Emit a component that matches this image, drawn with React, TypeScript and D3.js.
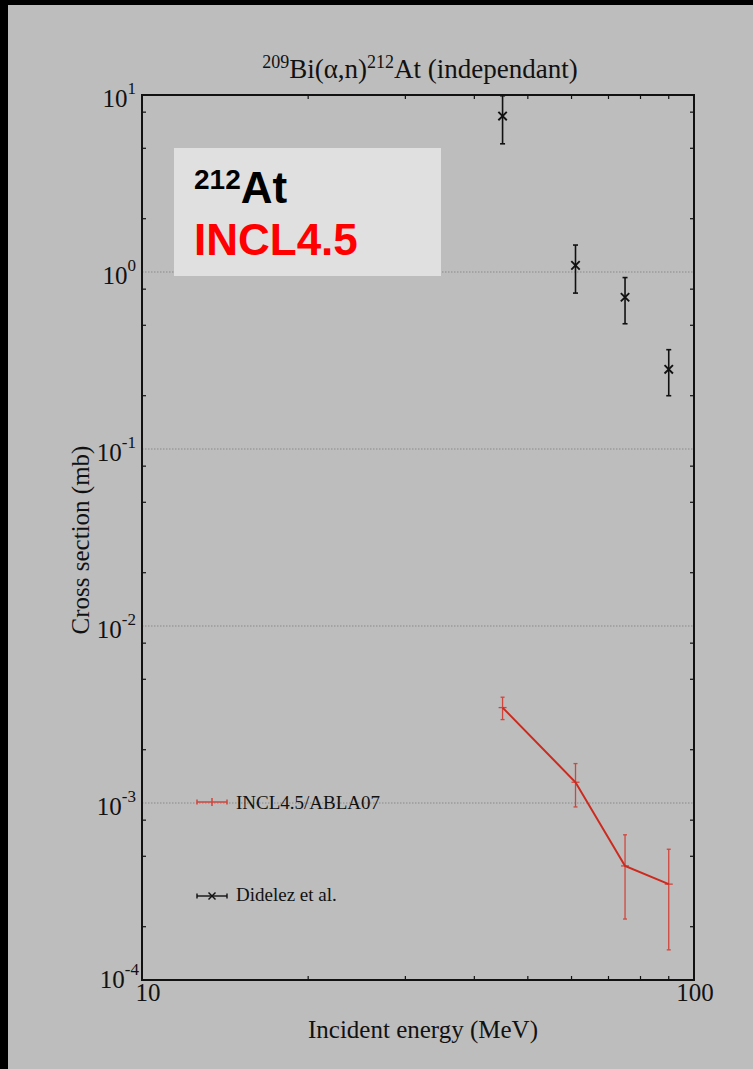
import React from "react";
import * as d3 from "d3";

// Incident alpha energies (MeV)
const energies = [45, 61, 75, 90];

// Didelez et al. measured cross sections (mb) and uncertainties
const expValues = [7.6, 1.09, 0.72, 0.282];
const expErrors = [2.3, 0.33, 0.21, 0.082];

// INCL4.5/ABLA07 calculation (mb) and statistical errors
const calcValues = [3.46e-3, 1.31e-3, 4.41e-4, 3.48e-4];
const calcErrors = [0.5e-3, 0.36e-3, 2.2e-4, 2.0e-4];

const yDecades = [1, 0, -1, -2, -3, -4];
const xMinor = [20, 30, 40, 50, 60, 70, 80, 90];
const yMinorMantissas = [2, 5, 8];

const W = 753;
const H = 1069;
const M = { left: 142, right: 694, top: 95, bottom: 980 };

const serif = "'Liberation Serif', 'DejaVu Serif', serif";
const sans = "'Liberation Sans', Arial, sans-serif";

export default function App() {
  const x = d3.scaleLog().domain([10, 100]).range([M.left, M.right]);
  const y = d3.scaleLog().domain([1e-4, 10]).range([M.bottom, M.top]);

  const line = d3
    .line<number>()
    .x((_, i) => x(energies[i]))
    .y((v) => y(v));

  const yMinor: number[] = [];
  for (let e = -4; e < 1; e++) {
    yMinorMantissas.forEach((m) => yMinor.push(m * Math.pow(10, e)));
  }

  const red = "#cc2a1e";
  const redBar = "#d0463c";
  const mk = 4.2;

  return (
    <svg
      width={W}
      height={H}
      style={{ position: "absolute", left: 0, top: 0, display: "block" }}
    >
      <rect x={0} y={0} width={W} height={H} fill="#000" />
      <rect x={8} y={5} width={W - 8} height={H - 5} fill="#bdbdbd" />

      {/* title */}
      <text x={420} y={78} textAnchor="middle" fontFamily={serif} fontSize={27} fill="#111">
        <tspan fontSize={18} dy={-10}>209</tspan>
        <tspan dy={10}>Bi(α,n)</tspan>
        <tspan fontSize={18} dy={-10}>212</tspan>
        <tspan dy={10}>At (independant)</tspan>
      </text>

      {/* decade grid lines */}
      {yDecades
        .filter((d) => d < 1 && d > -4)
        .map((d) => (
          <line
            key={"g" + d}
            x1={M.left}
            x2={M.right}
            y1={y(Math.pow(10, d))}
            y2={y(Math.pow(10, d))}
            stroke="#8a8a8a"
            strokeWidth={1.2}
            strokeDasharray="1.5,1.5"
          />
        ))}

      {/* minor ticks */}
      {xMinor.map((v) => (
        <g key={"xm" + v}>
          <line x1={x(v)} x2={x(v)} y1={M.bottom} y2={M.bottom - 4} stroke="#111" strokeWidth={1.2} />
          <line x1={x(v)} x2={x(v)} y1={M.top} y2={M.top + 4} stroke="#111" strokeWidth={1.2} />
        </g>
      ))}
      {yMinor.map((v) => (
        <g key={"ym" + v}>
          <line x1={M.left} x2={M.left + 4} y1={y(v)} y2={y(v)} stroke="#111" strokeWidth={1.2} />
          <line x1={M.right} x2={M.right - 4} y1={y(v)} y2={y(v)} stroke="#111" strokeWidth={1.2} />
        </g>
      ))}

      {/* frame */}
      <rect
        x={M.left}
        y={M.top}
        width={M.right - M.left}
        height={M.bottom - M.top}
        fill="none"
        stroke="#111"
        strokeWidth={2}
      />

      {/* y tick labels */}
      {yDecades.map((d) => (
        <text
          key={"yl" + d}
          x={d === -4 ? 139 : 136}
          y={y(Math.pow(10, d)) + (d === -4 ? 8 : 12)}
          textAnchor="end"
          fontFamily={serif}
          fontSize={25}
          fill="#111"
        >
          10
          <tspan fontSize={17} dy={-13}>
            {d}
          </tspan>
        </text>
      ))}

      {/* x tick labels */}
      <text x={x(10) + 6} y={1001} textAnchor="middle" fontFamily={serif} fontSize={25} fill="#111">
        10
      </text>
      <text x={x(100) + 1} y={1001} textAnchor="middle" fontFamily={serif} fontSize={25} fill="#111">
        100
      </text>

      {/* axis titles */}
      <text x={423} y={1038} textAnchor="middle" fontFamily={serif} fontSize={25} fill="#111">
        Incident energy (MeV)
      </text>
      <text
        transform={`translate(89,540) rotate(-90)`}
        textAnchor="middle"
        fontFamily={serif}
        fontSize={25}
        fill="#111"
      >
        Cross section (mb)
      </text>

      {/* experimental data */}
      {energies.map((e, i) => {
        const cx = x(e);
        const cy = y(expValues[i]);
        const top = y(Math.min(expValues[i] + expErrors[i], 10));
        const bot = y(expValues[i] - expErrors[i]);
        return (
          <g key={"ex" + i} stroke="#111" strokeWidth={1.6}>
            <line x1={cx} x2={cx} y1={top} y2={bot} />
            <line x1={cx - 2.5} x2={cx + 2.5} y1={top} y2={top} />
            <line x1={cx - 2.5} x2={cx + 2.5} y1={bot} y2={bot} />
            <line x1={cx - mk} x2={cx + mk} y1={cy - mk} y2={cy + mk} strokeWidth={1.9} />
            <line x1={cx - mk} x2={cx + mk} y1={cy + mk} y2={cy - mk} strokeWidth={1.9} />
          </g>
        );
      })}

      {/* calculation error bars */}
      {energies.map((e, i) => {
        const cx = x(e);
        const cy = y(calcValues[i]);
        const top = y(calcValues[i] + calcErrors[i]);
        const bot = y(calcValues[i] - calcErrors[i]);
        return (
          <g key={"cb" + i} stroke={redBar} strokeWidth={1.3}>
            <line x1={cx} x2={cx} y1={top} y2={bot} />
            <line x1={cx - 2} x2={cx + 2} y1={top} y2={top} />
            <line x1={cx - 2} x2={cx + 2} y1={bot} y2={bot} />
            <line x1={cx - 4} x2={cx + 4} y1={cy} y2={cy} />
          </g>
        );
      })}
      <path d={line(calcValues) || ""} fill="none" stroke={red} strokeWidth={2} />

      {/* legend entries */}
      <g stroke={redBar} strokeWidth={1.5}>
        <line x1={197} x2={227} y1={802} y2={802} />
        <line x1={197} x2={197} y1={799.5} y2={804.5} />
        <line x1={227} x2={227} y1={799.5} y2={804.5} />
        <line x1={212} x2={212} y1={798} y2={806} />
      </g>
      <text x={236} y={809} fontFamily={serif} fontSize={19} fill="#111">
        INCL4.5/ABLA07
      </text>
      <g stroke="#111" strokeWidth={1.4}>
        <line x1={197} x2={227} y1={896} y2={896} />
        <line x1={197} x2={197} y1={893.5} y2={898.5} />
        <line x1={227} x2={227} y1={893.5} y2={898.5} />
        <line x1={208.5} x2={215.5} y1={892.5} y2={899.5} />
        <line x1={208.5} x2={215.5} y1={899.5} y2={892.5} />
      </g>
      <text x={236} y={901} fontFamily={serif} fontSize={19} fill="#111">
        Didelez et al.
      </text>

      {/* annotation box */}
      <rect x={174} y={148} width={267} height={128} fill="#e0e0e0" />
      <text x={194} y={203} fontFamily={sans} fontWeight="bold" fontSize={44} fill="#000">
        <tspan fontSize={28} dy={-14}>212</tspan>
        <tspan dy={14}>At</tspan>
      </text>
      <text x={194} y={255} fontFamily={sans} fontWeight="bold" fontSize={44} fill="#ff0000">
        INCL4.5
      </text>
    </svg>
  );
}
